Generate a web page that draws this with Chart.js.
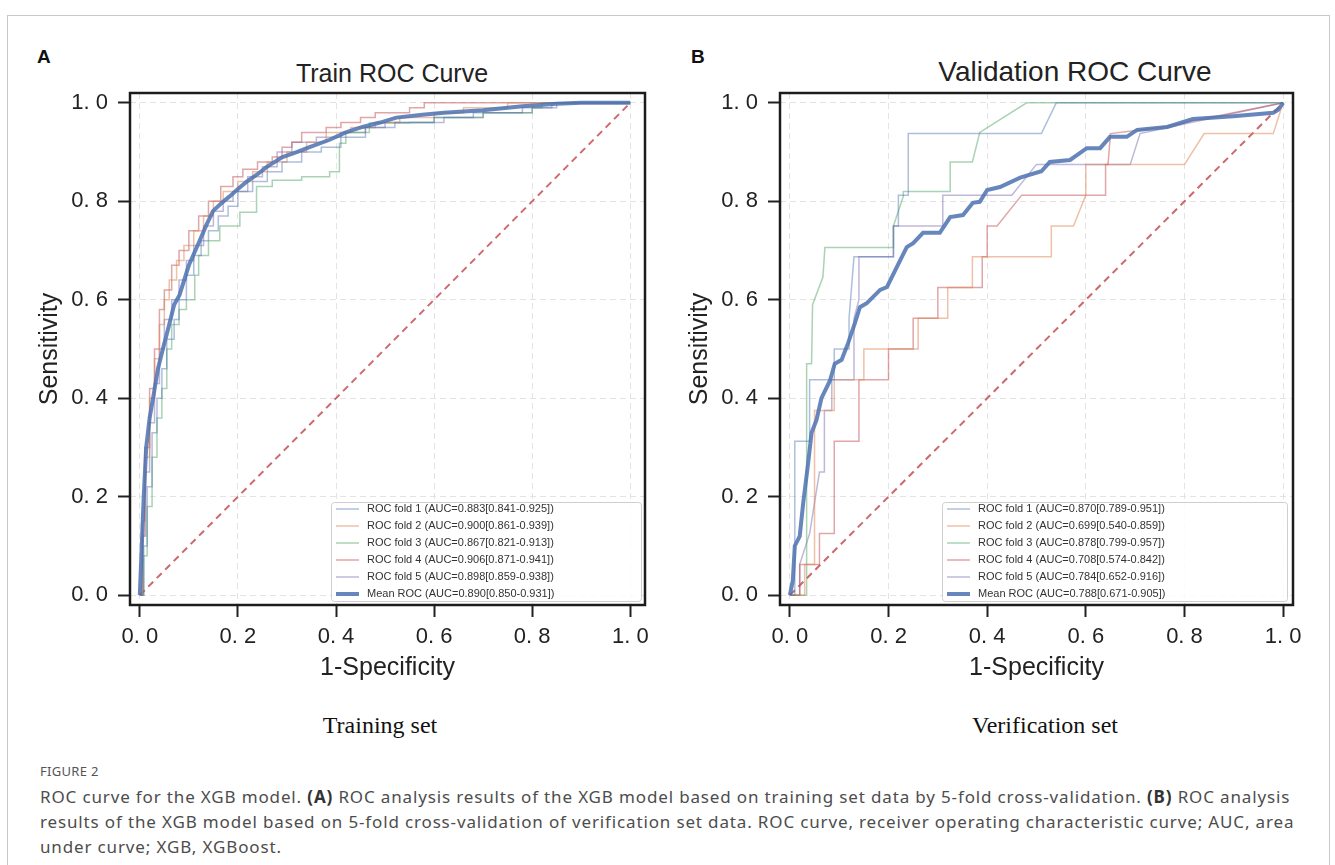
<!DOCTYPE html>
<html>
<head>
<meta charset="utf-8">
<script src="https://cdn.jsdelivr.net/npm/chart.js"></script>
<style>
  body { margin: 0; background: #fff; width: 1335px; height: 865px; overflow: hidden; position: relative;
         font-family: "Liberation Sans", Arial, sans-serif; }
  .frame { position: absolute; left: 7px; top: 15px; width: 1321px; height: 900px; border: 1px solid #c8c8c8; }
  .panel { position: absolute; top: 0; width: 667px; height: 700px; }
  .letter { position: absolute; top: 46px; font: bold 19px "Liberation Sans", Arial, sans-serif; color: #111; }
  .ptitle { position: absolute; transform: translate(-50%, -50%); white-space: nowrap; color: #222; }
  .setname { position: absolute; top: 725px; transform: translate(-50%, -50%); white-space: nowrap;
             font: 24px "Liberation Serif", "Times New Roman", serif; color: #111; }
  .fig { position: absolute; left: 40px; top: 762px; font: 13px "Noto Sans", sans-serif; color: #555; letter-spacing: 0.3px; }
  .cap { position: absolute; left: 40px; top: 784px; font: 17px "Noto Sans", sans-serif; line-height: 25px;
         letter-spacing: 0.85px; color: #4d4d4d; white-space: nowrap; }
  .cap b { color: #333; }
</style>
</head>
<body>
<div class="frame"></div>

<div class="letter" style="left:37px">A</div>
<div class="letter" style="left:691px">B</div>
<div class="ptitle" style="left:392px; top:73px; font-size:25px">Train ROC Curve</div>
<div class="ptitle" style="left:1075px; top:72px; font-size:28px">Validation ROC Curve</div>

<canvas id="chartA" class="panel" width="667" height="700" style="left:0px"></canvas>
<canvas id="chartB" class="panel" width="667" height="700" style="left:650px"></canvas>

<div class="setname" style="left:380px">Training set</div>
<div class="setname" style="left:1045px">Verification set</div>

<div class="fig">FIGURE 2</div>
<div class="cap">ROC curve for the XGB model. <b>(A)</b> ROC analysis results of the XGB model based on training set data by 5-fold cross-validation. <b>(B)</b> ROC analysis<br>results of the XGB model based on 5-fold cross-validation of verification set data. ROC curve, receiver operating characteristic curve; AUC, area<br>under curve; XGB, XGBoost.</div>

<script>
// tick values / labels shared by both panels
const tickValues = [0, 0.2, 0.4, 0.6, 0.8, 1.0];
const tickLabels = ['0. 0', '0. 2', '0. 4', '0. 6', '0. 8', '1. 0'];
const chanceLine = [[0, 0], [1, 1]];

// ---- panel A: training folds (x = 1-specificity, y = sensitivity) ----
const trainFold1 = [[0,0],[0.008,0.1],[0.015,0.22],[0.025,0.33],[0.035,0.4],[0.045,0.46],[0.055,0.52],[0.07,0.56],[0.08,0.6],[0.095,0.65],[0.11,0.69],[0.125,0.72],[0.14,0.74],[0.16,0.77],[0.18,0.79],[0.2,0.82],[0.23,0.84],[0.26,0.86],[0.29,0.88],[0.33,0.9],[0.37,0.91],[0.41,0.93],[0.46,0.95],[0.52,0.96],[0.6,0.97],[0.68,0.98],[0.78,0.99],[0.84,1],[1,1]];
const trainFold2 = [[0,0],[0.005,0.12],[0.01,0.28],[0.02,0.4],[0.03,0.48],[0.04,0.55],[0.05,0.6],[0.06,0.64],[0.075,0.68],[0.09,0.71],[0.11,0.74],[0.13,0.77],[0.15,0.8],[0.17,0.82],[0.2,0.84],[0.23,0.86],[0.26,0.88],[0.3,0.9],[0.34,0.92],[0.38,0.94],[0.43,0.95],[0.48,0.96],[0.53,0.97],[0.6,0.98],[0.66,0.99],[0.75,1],[1,1]];
const trainFold3 = [[0,0],[0.008,0.08],[0.015,0.18],[0.025,0.28],[0.035,0.36],[0.045,0.42],[0.055,0.5],[0.065,0.55],[0.08,0.58],[0.095,0.6],[0.112,0.65],[0.12,0.69],[0.14,0.72],[0.163,0.75],[0.204,0.75],[0.204,0.778],[0.238,0.778],[0.238,0.83],[0.27,0.843],[0.33,0.85],[0.387,0.86],[0.407,0.918],[0.42,0.94],[0.468,0.959],[0.55,0.96],[0.6,0.97],[0.7,0.98],[0.8,0.99],[0.82,1],[1,1]];
const trainFold4 = [[0,0],[0.005,0.15],[0.01,0.3],[0.02,0.42],[0.03,0.5],[0.04,0.58],[0.05,0.62],[0.065,0.67],[0.08,0.7],[0.1,0.74],[0.12,0.77],[0.14,0.8],[0.165,0.83],[0.19,0.85],[0.21,0.865],[0.24,0.88],[0.27,0.89],[0.29,0.91],[0.31,0.92],[0.33,0.94],[0.38,0.95],[0.41,0.96],[0.45,0.97],[0.48,0.98],[0.55,0.99],[0.58,1],[1,1]];
const trainFold5 = [[0,0],[0.006,0.12],[0.012,0.25],[0.02,0.35],[0.03,0.43],[0.04,0.5],[0.05,0.56],[0.065,0.6],[0.08,0.64],[0.095,0.68],[0.11,0.71],[0.13,0.75],[0.15,0.78],[0.17,0.8],[0.19,0.82],[0.22,0.85],[0.25,0.87],[0.28,0.9],[0.31,0.92],[0.36,0.93],[0.41,0.94],[0.46,0.95],[0.5,0.96],[0.62,0.97],[0.7,0.98],[0.8,0.99],[0.85,1],[1,1]];
const trainMean = [[0,0],[0.004,0.1],[0.008,0.2],[0.013,0.3],[0.02,0.36],[0.027,0.4],[0.037,0.46],[0.047,0.5],[0.06,0.55],[0.07,0.59],[0.081,0.61],[0.1,0.67],[0.122,0.72],[0.135,0.75],[0.149,0.78],[0.165,0.795],[0.183,0.81],[0.2,0.825],[0.218,0.84],[0.24,0.855],[0.259,0.87],[0.291,0.89],[0.32,0.9],[0.346,0.91],[0.387,0.925],[0.42,0.94],[0.454,0.951],[0.49,0.96],[0.523,0.97],[0.576,0.976],[0.62,0.98],[0.7,0.985],[0.78,0.993],[0.85,0.998],[0.9,1],[1,1]];
const trainLabels = [
  'ROC fold 1 (AUC=0.883[0.841-0.925])',
  'ROC fold 2 (AUC=0.900[0.861-0.939])',
  'ROC fold 3 (AUC=0.867[0.821-0.913])',
  'ROC fold 4 (AUC=0.906[0.871-0.941])',
  'ROC fold 5 (AUC=0.898[0.859-0.938])',
  'Mean ROC (AUC=0.890[0.850-0.931])'
];

// ---- panel B: validation folds ----
const valFold1 = [[0,0],[0.01,0],[0.01,0.3125],[0.04,0.3125],[0.04,0.4375],[0.09,0.4375],[0.09,0.5],[0.12,0.5],[0.12,0.5625],[0.13,0.6875],[0.21,0.6875],[0.21,0.75],[0.22,0.75],[0.22,0.8125],[0.24,0.8125],[0.24,0.9375],[0.51,0.9375],[0.54,1],[1,1]];
const valFold2 = [[0,0],[0.03,0],[0.03,0.0625],[0.05,0.0625],[0.05,0.375],[0.09,0.375],[0.09,0.4375],[0.15,0.4375],[0.15,0.5],[0.26,0.5],[0.26,0.5625],[0.32,0.5625],[0.32,0.625],[0.37,0.625],[0.37,0.6875],[0.53,0.6875],[0.53,0.75],[0.575,0.75],[0.6,0.8125],[0.6,0.875],[0.8,0.875],[0.84,0.9375],[0.98,0.9375],[1,1]];
const valFold3 = [[0,0],[0.034,0],[0.034,0.47],[0.044,0.47],[0.046,0.59],[0.067,0.646],[0.071,0.706],[0.21,0.706],[0.21,0.75],[0.23,0.81],[0.23,0.82],[0.325,0.82],[0.325,0.88],[0.37,0.88],[0.385,0.94],[0.48,1],[1,1]];
const valFold4 = [[0,0],[0.02,0],[0.02,0.0625],[0.06,0.0625],[0.06,0.125],[0.09,0.125],[0.09,0.3125],[0.14,0.3125],[0.14,0.4375],[0.2,0.4375],[0.2,0.5],[0.25,0.5],[0.25,0.5625],[0.3,0.5625],[0.3,0.625],[0.39,0.625],[0.39,0.6875],[0.4,0.6875],[0.4,0.75],[0.42,0.75],[0.47,0.8125],[0.64,0.8125],[0.64,0.875],[0.645,0.875],[0.65,0.9375],[0.75,0.95],[1,1]];
const valFold5 = [[0,0],[0.02,0],[0.02,0.0625],[0.04,0.125],[0.06,0.25],[0.07,0.25],[0.07,0.375],[0.085,0.375],[0.085,0.4375],[0.13,0.4375],[0.13,0.5625],[0.14,0.6],[0.14,0.6875],[0.21,0.6875],[0.21,0.75],[0.31,0.75],[0.31,0.8125],[0.45,0.8125],[0.5,0.875],[0.69,0.875],[0.71,0.9375],[1,1]];
const valMean = [[0,0],[0.006,0.03],[0.01,0.1],[0.02,0.12],[0.027,0.187],[0.037,0.268],[0.044,0.33],[0.054,0.356],[0.064,0.4],[0.081,0.435],[0.091,0.47],[0.105,0.478],[0.118,0.512],[0.132,0.553],[0.142,0.585],[0.156,0.593],[0.183,0.62],[0.197,0.626],[0.217,0.667],[0.237,0.707],[0.25,0.715],[0.27,0.736],[0.304,0.736],[0.325,0.768],[0.351,0.772],[0.371,0.797],[0.385,0.799],[0.4,0.823],[0.426,0.829],[0.467,0.848],[0.51,0.861],[0.527,0.88],[0.568,0.884],[0.602,0.908],[0.629,0.908],[0.649,0.931],[0.683,0.931],[0.704,0.945],[0.765,0.951],[0.817,0.967],[0.899,0.973],[0.98,0.98],[0.99,0.986],[1,1]];
const valLabels = [
  'ROC fold 1 (AUC=0.870[0.789-0.951])',
  'ROC fold 2 (AUC=0.699[0.540-0.859])',
  'ROC fold 3 (AUC=0.878[0.799-0.957])',
  'ROC fold 4 (AUC=0.708[0.574-0.842])',
  'ROC fold 5 (AUC=0.784[0.652-0.916])',
  'Mean ROC (AUC=0.788[0.671-0.905])'
];

const foldColors = ['rgba(76,114,176,0.45)', 'rgba(221,132,82,0.5)', 'rgba(85,168,104,0.5)',
                    'rgba(196,78,82,0.5)', 'rgba(129,114,179,0.5)'];
const meanColor = 'rgba(76,114,176,0.85)';
const chanceColor = 'rgba(196,78,82,0.85)';

const toXY = arr => arr.map(p => ({x: p[0], y: p[1]}));

// frame + boxed legend inside the plot area
const rocDecor = {
  id: 'rocDecor',
  afterDatasetsDraw(chart, args, opts) {
    const {ctx, chartArea: a} = chart;
    const boxL = a.right - opts.right - opts.width;
    const boxT = a.bottom - opts.bottom - opts.height;
    ctx.save();
    ctx.fillStyle = 'rgba(255,255,255,0.85)';
    ctx.strokeStyle = '#cfcfcf';
    ctx.lineWidth = 1;
    ctx.beginPath();
    ctx.roundRect(boxL + 0.5, boxT + 0.5, opts.width, opts.height, 3);
    ctx.fill();
    ctx.stroke();
    ctx.font = '11px "Liberation Sans", Arial, sans-serif';
    ctx.textBaseline = 'middle';
    ctx.fillStyle = '#333';
    chart.data.datasets.filter(d => d.label).forEach((d, i) => {
      const y = boxT + 7 + i * 17;
      ctx.strokeStyle = d.borderColor;
      ctx.lineWidth = d.borderWidth;
      ctx.beginPath();
      ctx.moveTo(boxL + 5, y);
      ctx.lineTo(boxL + 28, y);
      ctx.stroke();
      ctx.fillText(d.label, boxL + 36, y);
    });
    ctx.strokeStyle = '#1c1c1c';
    ctx.lineWidth = 2.5;
    ctx.strokeRect(a.left, a.top, a.right - a.left, a.bottom - a.top);
    ctx.restore();
  }
};

function axis(title, isX) {
  return {
    type: 'linear',
    min: -0.02,
    max: isX ? 1.03 : 1.02,
    afterBuildTicks: s => { s.ticks = tickValues.map(v => ({value: v})); },
    afterFit: s => { if (isX) s.height = 83; else s.width = 100; },
    ticks: {
      callback: (v, i) => tickLabels[i],
      font: {size: 22, family: '"Liberation Sans", Arial, sans-serif'},
      color: '#222',
      padding: isX ? 7 : 10,
      maxRotation: 0
    },
    grid: {color: '#e3e3e3', lineWidth: 1, tickLength: 12, tickColor: '#222', tickWidth: 2},
    border: {display: false, dash: [6, 4]},
    title: {
      display: true, text: title, color: '#222',
      font: {size: 25, family: '"Liberation Sans", Arial, sans-serif'},
      padding: isX ? {top: 0, bottom: 5} : {top: 5, bottom: 0}
    }
  };
}

function rocChart(id, folds, mean, labels, stepped, xMax, padRight, legend) {
  const datasets = folds.map((f, i) => ({
    label: labels[i], data: toXY(f), borderColor: foldColors[i], borderWidth: 1.5,
    stepped: stepped, order: 1
  }));
  datasets.push({label: labels[5], data: toXY(mean), borderColor: meanColor, borderWidth: 4, order: 0});
  datasets.push({label: '', data: toXY(chanceLine), borderColor: chanceColor, borderWidth: 2,
                 borderDash: [7, 5], order: 2});
  const x = axis('1-Specificity', true);
  x.max = xMax;
  new Chart(document.getElementById(id), {
    type: 'line',
    data: {datasets},
    options: {
      responsive: false,
      animation: false,
      elements: {point: {radius: 0}, line: {tension: 0, fill: false}},
      layout: {padding: {left: 30, top: 93, right: padRight, bottom: 12}},
      scales: {x: x, y: axis('Sensitivity', false)},
      plugins: {legend: {display: false}, tooltip: {enabled: false}, rocDecor: legend}
    },
    plugins: [rocDecor]
  });
}

rocChart('chartA', [trainFold1, trainFold2, trainFold3, trainFold4, trainFold5], trainMean, trainLabels,
         'before', 1.03, 22, {right: 4, bottom: 4, width: 310, height: 99});
rocChart('chartB', [valFold1, valFold2, valFold3, valFold4, valFold5], valMean, valLabels,
         false, 1.02, 24, {right: 6, bottom: 4, width: 345, height: 99});
</script>
</body>
</html>
